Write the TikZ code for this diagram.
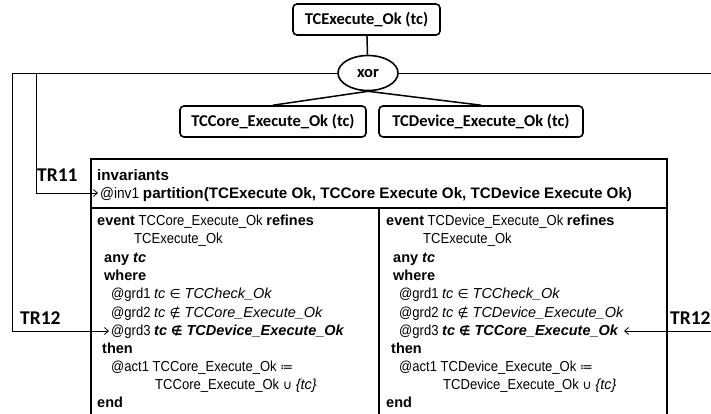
\documentclass[tikz,border=0pt]{standalone}
\usepackage{fontspec}
\setmainfont{Liberation Sans}[UprightFeatures={FakeStretch=0.9}]
\newfontfamily\calfont{Carlito}
\newfontfamily\symfont{DejaVu Sans}[Scale=0.88]
\usetikzlibrary{arrows.meta,shapes.geometric}

% operator symbols taken from DejaVu Sans
\newcommand\symin{{\symfont ∈}}
\newcommand\symnotin{{\symfont ∉}}
\newcommand\symassign{{\symfont ≔}}
\newcommand\symcup{{\symfont ∪}}

\begin{document}
\begin{tikzpicture}[x=1pt,y=-1pt,
  feat/.style={draw, line width=1.6pt, rounded corners=4pt, inner sep=0pt,
    minimum height=31pt, font=\calfont\bfseries\fontsize{16.5}{18}\selectfont},
  xorop/.style={draw, ellipse, line width=1.6pt, inner sep=0pt,
    minimum width=60pt, minimum height=35pt,
    font=\calfont\bfseries\fontsize{16.5}{18}\selectfont},
  treeedge/.style={line width=1.5pt},
  trlink/.style={line width=0.8pt},
  trarrow/.style={trlink, -{Straight Barb[length=4pt,width=7pt]}},
  trlabel/.style={anchor=west, inner sep=0pt, font=\calfont\bfseries\fontsize{19.5}{22}\selectfont},
  panel/.style={draw, line width=1.6pt, anchor=north west, inner sep=0pt},
  code/.style={anchor=base west, inner sep=0pt, font=\fontsize{14.5}{18}\selectfont},
  invcode/.style={code, font=\fontsize{15.2}{18}\selectfont}]
\clip (0,0) rectangle (711,413);

% feature tree
\node[feat, minimum width=147pt] (root) at (366.5,19.5) {TCExecute\_Ok (tc)};
\node[xorop] (xor) at (368,73) {xor};
\node[feat, minimum width=186pt] (core) at (273,121.5) {TCCore\_Execute\_Ok (tc)};
\node[feat, minimum width=204pt] (dev) at (481,121.5) {TCDevice\_Execute\_Ok (tc)};
\draw[treeedge] (root) -- (xor);
\draw[treeedge] (xor.south) -- (core.north);
\draw[treeedge] (xor.south) -- (dev.north);

% Event-B machine panels
\node[panel, minimum width=576pt, minimum height=49pt] (inv) at (90,158) {};
\node[panel, minimum width=288pt, minimum height=230pt] (evcore) at (90,207) {};
\node[panel, minimum width=288pt, minimum height=230pt] (evdev) at (378,207) {};

\node[invcode] (invhead) at (97,180) {\bfseries invariants};
\node[invcode] (inv1) at (100,198) {@inv1 \textbf{partition(TCExecute Ok, TCCore Execute Ok, TCDevice Execute Ok)}};

% left event
\node[code] (ca) at (97,225) {\textbf{event} TCCore\_Execute\_Ok \textbf{refines}};
\node[code] (cb) at (134,243) {TCExecute\_Ok};
\node[code] (cc) at (104,262) {\textbf{any \textit{tc}}};
\node[code] (cd) at (104,280) {\textbf{where}};
\node[code] (ce) at (111,298) {@grd1 \textit{tc \symin\ TCCheck\_Ok}};
\node[code] (cf) at (111,317) {@grd2 \textit{tc \symnotin\ TCCore\_Execute\_Ok}};
\node[code] (cg) at (111,335) {@grd3 \textbf{\textit{tc \symnotin\ TCDevice\_Execute\_Ok}}};
\node[code] (ch) at (102,353) {\textbf{then}};
\node[code] (ci) at (111,371) {@act1 TCCore\_Execute\_Ok \symassign};
\node[code] (cj) at (155,389) {TCCore\_Execute\_Ok \symcup\ \textit{\{tc\}}};
\node[code] (ck) at (97,407) {\textbf{end}};

% right event
\node[code] (da) at (386,225) {\textbf{event} TCDevice\_Execute\_Ok \textbf{refines}};
\node[code] (db) at (423,243) {TCExecute\_Ok};
\node[code] (dc) at (393,262) {\textbf{any \textit{tc}}};
\node[code] (dd) at (393,280) {\textbf{where}};
\node[code] (de) at (399,298) {@grd1 \textit{tc \symin\ TCCheck\_Ok}};
\node[code] (df) at (399,317) {@grd2 \textit{tc \symnotin\ TCDevice\_Execute\_Ok}};
\node[code] (dg) at (399,335) {@grd3 \textbf{\textit{tc \symnotin\ TCCore\_Execute\_Ok}}};
\node[code] (dh) at (391,353) {\textbf{then}};
\node[code] (di) at (399,371) {@act1 TCDevice\_Execute\_Ok \symassign};
\node[code] (dj) at (443,389) {TCDevice\_Execute\_Ok \symcup\ \textit{\{tc\}}};
\node[code] (dk) at (386,407) {\textbf{end}};

% traceability links
\node[trlabel] (tr11) at (37,175) {TR11};
\node[trlabel] (tr12l) at (20,318) {TR12};
\node[trlabel] (tr12r) at (670,318) {TR12};
\coordinate (outerl) at (12,73);
\coordinate (innerl) at (36,73);
\coordinate (outerr) at (720,73);
\coordinate (tr11bend) at (36,193);
\coordinate (tr11tip) at (98,193);
\coordinate (tr12lbend) at (12,331);
\coordinate (tr12ltip) at (109,331);
\coordinate (tr12rbend) at (720,331);
\coordinate (tr12rtip) at (624,331);
\draw[trlink] (xor.west) -- (outerl);
\draw[trarrow] (innerl) -- (tr11bend) -- (tr11tip);
\draw[trarrow] (outerl) -- (tr12lbend) -- (tr12ltip);
\draw[trlink] (xor.east) -- (outerr);
\draw[trarrow] (outerr) -- (tr12rbend) -- (tr12rtip);
\end{tikzpicture}
\end{document}
